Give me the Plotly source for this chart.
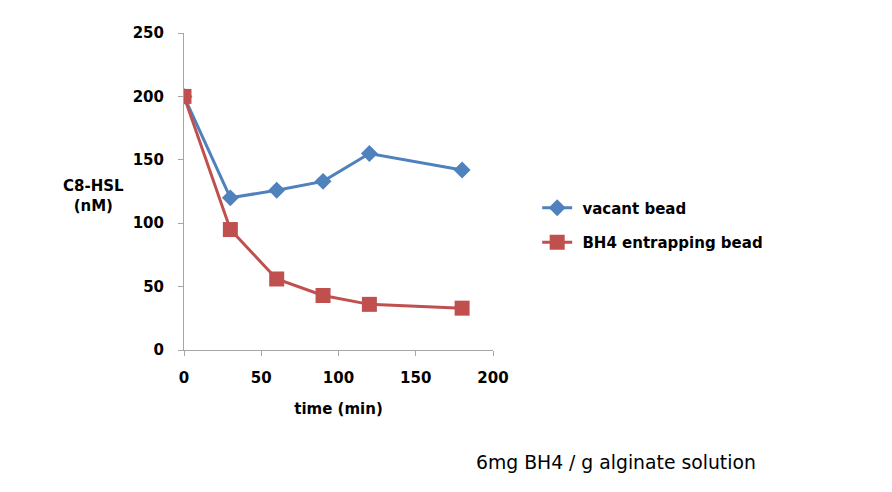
import plotly.graph_objects as go

time_min = [0, 30, 60, 90, 120, 180]
vacant_bead = [200, 120, 126, 133, 155, 142]
bh4_bead = [200, 95, 56, 43, 36, 33]
x_ticks = [0, 50, 100, 150, 200]
y_ticks = [0, 50, 100, 150, 200, 250]

BLUE = "#4F81BD"
RED = "#C0504D"
FONT = "DejaVu Sans"

fig = go.Figure()
fig.add_trace(go.Scatter(
    x=time_min, y=vacant_bead, name=" vacant bead", mode="lines+markers",
    line=dict(color=BLUE, width=3), legendgroup="a",
    marker=dict(symbol="diamond", size=13, color=BLUE),
))
fig.add_trace(go.Scatter(
    x=time_min, y=bh4_bead, name=" BH4 entrapping bead", mode="lines+markers",
    line=dict(color=RED, width=3), legendgroup="b",
    marker=dict(symbol="square", size=15, color=RED),
))

axis_common = dict(
    showgrid=False, zeroline=False, showline=True, linecolor="#A6A6A6", linewidth=1,
    ticks="outside", ticklen=5, tickcolor="#A6A6A6",
    tickfont=dict(family=FONT, size=15, color="black", weight="bold"),
)
fig.update_xaxes(range=[0, 200], tickvals=x_ticks, ticklabelstandoff=9,
                 title=dict(text="time (min)", font=dict(family=FONT, size=15, color="black", weight="bold"), standoff=17),
                 **axis_common)
fig.update_yaxes(range=[0, 250], tickvals=y_ticks, ticklabelstandoff=11, **axis_common)

fig.add_annotation(text="C8-HSL<br>(nM)", xref="paper", yref="paper",
                   x=-0.294, y=0.487, xanchor="center", yanchor="middle",
                   showarrow=False, align="center",
                   font=dict(family=FONT, size=15, color="black", weight="bold"))
fig.add_annotation(text="6mg BH4 / g alginate solution", xref="paper", yref="paper",
                   x=0.94, y=-0.393, xanchor="left", showarrow=False,
                   font=dict(family="DejaVu Sans", size=18.8, color="black"))

fig.update_layout(
    width=892, height=492,
    margin=dict(l=176, r=407, t=25, b=150),
    plot_bgcolor="white", paper_bgcolor="white",
    showlegend=True,
    legend=dict(x=1.143, y=0.5, xanchor="left", yanchor="top",
                font=dict(family=FONT, size=15, color="black", weight="bold"),
                tracegroupgap=12, bgcolor="rgba(0,0,0,0)"),
)

fig.write_html("out.html")
